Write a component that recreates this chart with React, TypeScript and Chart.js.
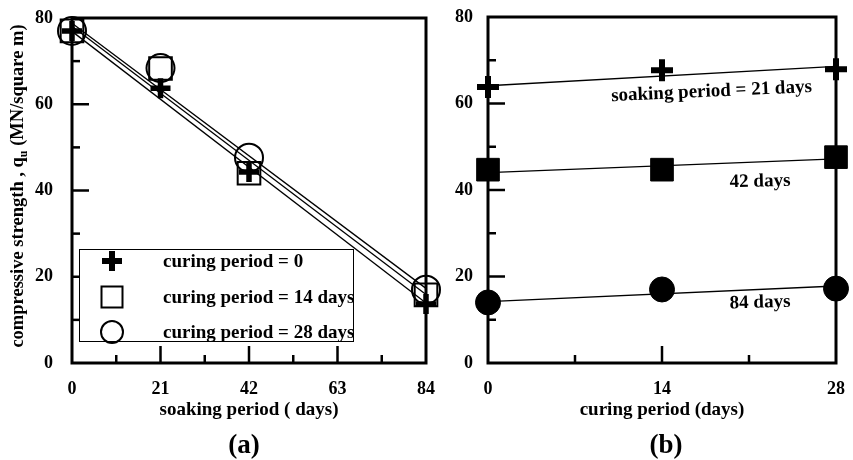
import React, { useEffect, useRef } from "react";
import { Chart, registerables } from "chart.js";

Chart.register(...registerables);

const FONT = '"Liberation Serif", "Times New Roman", serif';

// ---------- Panel (a): strength vs soaking period ----------
const soakingDays = [0, 21, 42, 84];
const curing0 = [77, 63.7, 44.3, 13.7];
const curing14 = [77, 68.3, 44.0, 15.8];
const curing28 = [77, 68.4, 47.6, 17.0];
const fitSoakX = [0, 84];
const fitCuring0 = [76.9, 13.9];
const fitCuring14 = [78.1, 15.9];
const fitCuring28 = [78.8, 17.3];
const soakTicksMajor = [21, 42, 63];
const soakTicksMinor = [10.5, 31.5, 52.5, 73.5];
const strengthTicksMajor = [20, 40, 60];
const strengthTicksMinor = [10, 30, 50, 70];
const legendLabels = ["curing period = 0", "curing period = 14 days", "curing period = 28 days"];

// ---------- Panel (b): strength vs curing period ----------
const curingDays = [0, 14, 28];
const soak21 = [63.8, 67.7, 67.9];
const soak42 = [44.7, 44.7, 47.6];
const soak84 = [14.0, 17.0, 17.2];
const fitCureX = [0, 28];
const fitSoak21 = [64.1, 68.6];
const fitSoak42 = [44.0, 47.2];
const fitSoak84 = [14.2, 17.8];
const cureTicksMajor = [14];
const cureTicksMinor = [7, 21];
const seriesLabelsB = ["soaking period = 21 days", "42 days", "84 days"];
const seriesLabelXB = [18.0, 21.9, 21.9];
const seriesLabelYB = [61.6, 40.8, 12.8];
const seriesLabelRotB = [-2.6, -1.5, -1.5];

const pts = (xs: number[], ys: number[]) => xs.map((x, i) => ({ x, y: ys[i] }));

function drawMarker(ctx: CanvasRenderingContext2D, style: string, x: number, y: number, r: number, bw: number, filled: boolean) {
  ctx.save();
  ctx.strokeStyle = "#000";
  ctx.fillStyle = "#000";
  ctx.lineWidth = bw;
  ctx.beginPath();
  if (style === "cross") {
    ctx.moveTo(x - r, y);
    ctx.lineTo(x + r, y);
    ctx.moveTo(x, y - r);
    ctx.lineTo(x, y + r);
    ctx.stroke();
  } else if (style === "rect") {
    ctx.rect(x - r, y - r, 2 * r, 2 * r);
    if (filled) ctx.fill();
    ctx.stroke();
  } else {
    ctx.arc(x, y, r, 0, Math.PI * 2);
    if (filled) ctx.fill();
    ctx.stroke();
  }
  ctx.restore();
}

function framePlugin(xMajor: number[], xMinor: number[], yMajor: number[], yMinor: number[]) {
  return {
    id: "frameTicks",
    beforeDatasetsDraw(chart: any) {
      const { ctx, chartArea: a, scales } = chart;
      ctx.save();
      ctx.strokeStyle = "#000";
      ctx.lineCap = "butt";
      ctx.lineWidth = 2.5;
      const seg = (x1: number, y1: number, x2: number, y2: number) => {
        ctx.beginPath();
        ctx.moveTo(x1, y1);
        ctx.lineTo(x2, y2);
        ctx.stroke();
      };
      xMajor.forEach((v) => {
        const p = scales.x.getPixelForValue(v);
        seg(p, a.bottom, p, a.bottom - 17);
      });
      xMinor.forEach((v) => {
        const p = scales.x.getPixelForValue(v);
        seg(p, a.bottom, p, a.bottom - 8);
      });
      yMajor.forEach((v) => {
        const p = scales.y.getPixelForValue(v);
        seg(a.left, p, a.left + 17, p);
      });
      yMinor.forEach((v) => {
        const p = scales.y.getPixelForValue(v);
        seg(a.left, p, a.left + 8, p);
      });
      ctx.lineWidth = 3;
      ctx.strokeRect(a.left, a.top, a.right - a.left, a.bottom - a.top);
      ctx.restore();
    },
  };
}

function fixAxis(size: number, horizontal: boolean) {
  return (scale: any) => {
    if (horizontal) scale.height = size;
    else scale.width = size;
    scale.paddingLeft = 0;
    scale.paddingRight = 0;
    scale.paddingTop = 0;
    scale.paddingBottom = 0;
  };
}

function makeScales(xMax: number, xStep: number, xTitle: string, yWidth: number, yPad: number) {
  const tickFont = { family: FONT, size: 18, weight: "bold" as const };
  return {
    x: {
      type: "linear" as const,
      min: 0,
      max: xMax,
      grid: { display: false, drawTicks: false },
      border: { display: false },
      ticks: { stepSize: xStep, autoSkip: false, color: "#000", font: tickFont, padding: 16, maxRotation: 0 },
      title: {
        display: true,
        text: xTitle,
        color: "#000",
        font: { family: FONT, size: 19, weight: "bold" as const },
        padding: { top: 0, bottom: 39 },
      },
      afterFit: fixAxis(97, true),
    },
    y: {
      type: "linear" as const,
      min: 0,
      max: 80,
      grid: { display: false, drawTicks: false },
      border: { display: false },
      ticks: { stepSize: 20, autoSkip: false, color: "#000", font: tickFont, padding: yPad },
      afterFit: fixAxis(yWidth, false),
    },
  };
}

function ChartA() {
  const ref = useRef<HTMLCanvasElement>(null);
  useEffect(() => {
    const canvas = ref.current!;
    const line = (ys: number[]) => ({
      data: pts(fitSoakX, ys),
      showLine: true,
      borderColor: "#000",
      borderWidth: 1.3,
      pointRadius: 0,
      clip: false as const,
    });
    const legendPlugin = {
      id: "legendA",
      afterDraw(chart: any) {
        const { ctx } = chart;
        ctx.save();
        ctx.fillStyle = "#fff";
        ctx.fillRect(79, 249, 274, 93);
        ctx.strokeStyle = "#000";
        ctx.lineWidth = 1;
        ctx.strokeRect(79.5, 249.5, 274, 92);
        drawMarker(ctx, "cross", 112, 261, 10, 6, true);
        drawMarker(ctx, "rect", 112, 297, 10.5, 2, false);
        drawMarker(ctx, "circle", 112, 332, 11, 2, false);
        ctx.fillStyle = "#000";
        ctx.font = `bold 19px ${FONT}`;
        ctx.textAlign = "left";
        ctx.textBaseline = "alphabetic";
        ctx.fillText(legendLabels[0], 163, 267);
        ctx.fillText(legendLabels[1], 163, 303);
        ctx.fillText(legendLabels[2], 163, 338);

        // y-axis title with subscript
        ctx.translate(23, 186);
        ctx.rotate(-Math.PI / 2);
        const p1 = "compressive strength , q";
        const p2 = "u";
        const p3 = " (MN/square m)";
        ctx.font = `bold 18.5px ${FONT}`;
        const w1 = ctx.measureText(p1).width;
        const w3 = ctx.measureText(p3).width;
        ctx.font = `bold 12px ${FONT}`;
        const w2 = ctx.measureText(p2).width;
        const start = -(w1 + w2 + w3) / 2;
        ctx.font = `bold 18.5px ${FONT}`;
        ctx.fillText(p1, start, 0);
        ctx.font = `bold 12px ${FONT}`;
        ctx.fillText(p2, start + w1, 4);
        ctx.font = `bold 18.5px ${FONT}`;
        ctx.fillText(p3, start + w1 + w2, 0);
        ctx.restore();

        ctx.save();
        ctx.fillStyle = "#000";
        ctx.font = `bold 27px ${FONT}`;
        ctx.textAlign = "center";
        ctx.textBaseline = "alphabetic";
        ctx.fillText("(a)", 244, 453);
        ctx.restore();
      },
    };
    const chart = new Chart(canvas, {
      type: "scatter",
      data: {
        datasets: [
          line(fitCuring0),
          line(fitCuring14),
          line(fitCuring28),
          {
            data: pts(soakingDays, curing0),
            pointStyle: "cross",
            pointRadius: 10,
            pointBorderWidth: 5.5,
            pointBorderColor: "#000",
            pointBackgroundColor: "#000",
            clip: false as const,
          },
          {
            data: pts(soakingDays, curing14),
            pointStyle: "rect",
            pointRadius: 16,
            pointBorderWidth: 2,
            pointBorderColor: "#000",
            pointBackgroundColor: "rgba(0,0,0,0)",
            clip: false as const,
          },
          {
            data: pts(soakingDays, curing28),
            pointStyle: "circle",
            pointRadius: 14,
            pointBorderWidth: 2,
            pointBorderColor: "#000",
            pointBackgroundColor: "rgba(0,0,0,0)",
            clip: false as const,
          },
        ] as any,
      },
      options: {
        responsive: false,
        animation: false,
        events: [],
        devicePixelRatio: 1,
        layout: { padding: { top: 12, right: 19, left: 0, bottom: 0 } },
        plugins: { legend: { display: false }, tooltip: { enabled: false } },
        scales: makeScales(84, 21, "soaking period ( days)", 72, 19) as any,
      },
      plugins: [framePlugin(soakTicksMajor, soakTicksMinor, strengthTicksMajor, strengthTicksMinor), legendPlugin],
    });
    return () => chart.destroy();
  }, []);
  return <canvas ref={ref} width={445} height={460} style={{ position: "absolute", left: 0, top: 0, width: 445, height: 460 }} />;
}

function ChartB() {
  const ref = useRef<HTMLCanvasElement>(null);
  useEffect(() => {
    const canvas = ref.current!;
    const line = (ys: number[]) => ({
      data: pts(fitCureX, ys),
      showLine: true,
      borderColor: "#000",
      borderWidth: 1.3,
      pointRadius: 0,
      clip: false as const,
    });
    const labelPlugin = {
      id: "labelsB",
      afterDraw(chart: any) {
        const { ctx, scales } = chart;
        ctx.save();
        ctx.fillStyle = "#000";
        ctx.font = `bold 19px ${FONT}`;
        ctx.textAlign = "center";
        ctx.textBaseline = "alphabetic";
        seriesLabelsB.forEach((t, i) => {
          const x = scales.x.getPixelForValue(seriesLabelXB[i]);
          const y = scales.y.getPixelForValue(seriesLabelYB[i]);
          ctx.save();
          ctx.translate(x, y);
          ctx.rotate((seriesLabelRotB[i] * Math.PI) / 180);
          ctx.fillText(t, 0, 0);
          ctx.restore();
        });
        ctx.font = `bold 27px ${FONT}`;
        ctx.fillText("(b)", 236, 453);
        ctx.restore();
      },
    };
    const chart = new Chart(canvas, {
      type: "scatter",
      data: {
        datasets: [
          line(fitSoak21),
          line(fitSoak42),
          line(fitSoak84),
          {
            data: pts(curingDays, soak21),
            pointStyle: "cross",
            pointRadius: 11,
            pointBorderWidth: 6,
            pointBorderColor: "#000",
            pointBackgroundColor: "#000",
            clip: false as const,
          },
          {
            data: pts(curingDays, soak42),
            pointStyle: "rect",
            pointRadius: 16,
            pointBorderWidth: 1,
            pointBorderColor: "#000",
            pointBackgroundColor: "#000",
            clip: false as const,
          },
          {
            data: pts(curingDays, soak84),
            pointStyle: "circle",
            pointRadius: 12.5,
            pointBorderWidth: 1,
            pointBorderColor: "#000",
            pointBackgroundColor: "#000",
            clip: false as const,
          },
        ] as any,
      },
      options: {
        responsive: false,
        animation: false,
        events: [],
        devicePixelRatio: 1,
        layout: { padding: { top: 12, right: 14, left: 0, bottom: 0 } },
        plugins: { legend: { display: false }, tooltip: { enabled: false } },
        scales: makeScales(28, 14, "curing period (days)", 58, 15) as any,
      },
      plugins: [framePlugin(cureTicksMajor, cureTicksMinor, strengthTicksMajor, strengthTicksMinor), labelPlugin],
    });
    return () => chart.destroy();
  }, []);
  return <canvas ref={ref} width={423} height={460} style={{ position: "absolute", left: 430, top: 0, width: 423, height: 460 }} />;
}

export default function App() {
  return (
    <div style={{ position: "fixed", left: 0, top: 0, width: 853, height: 460, background: "#fff", overflow: "hidden" }}>
      <ChartA />
      <ChartB />
    </div>
  );
}
